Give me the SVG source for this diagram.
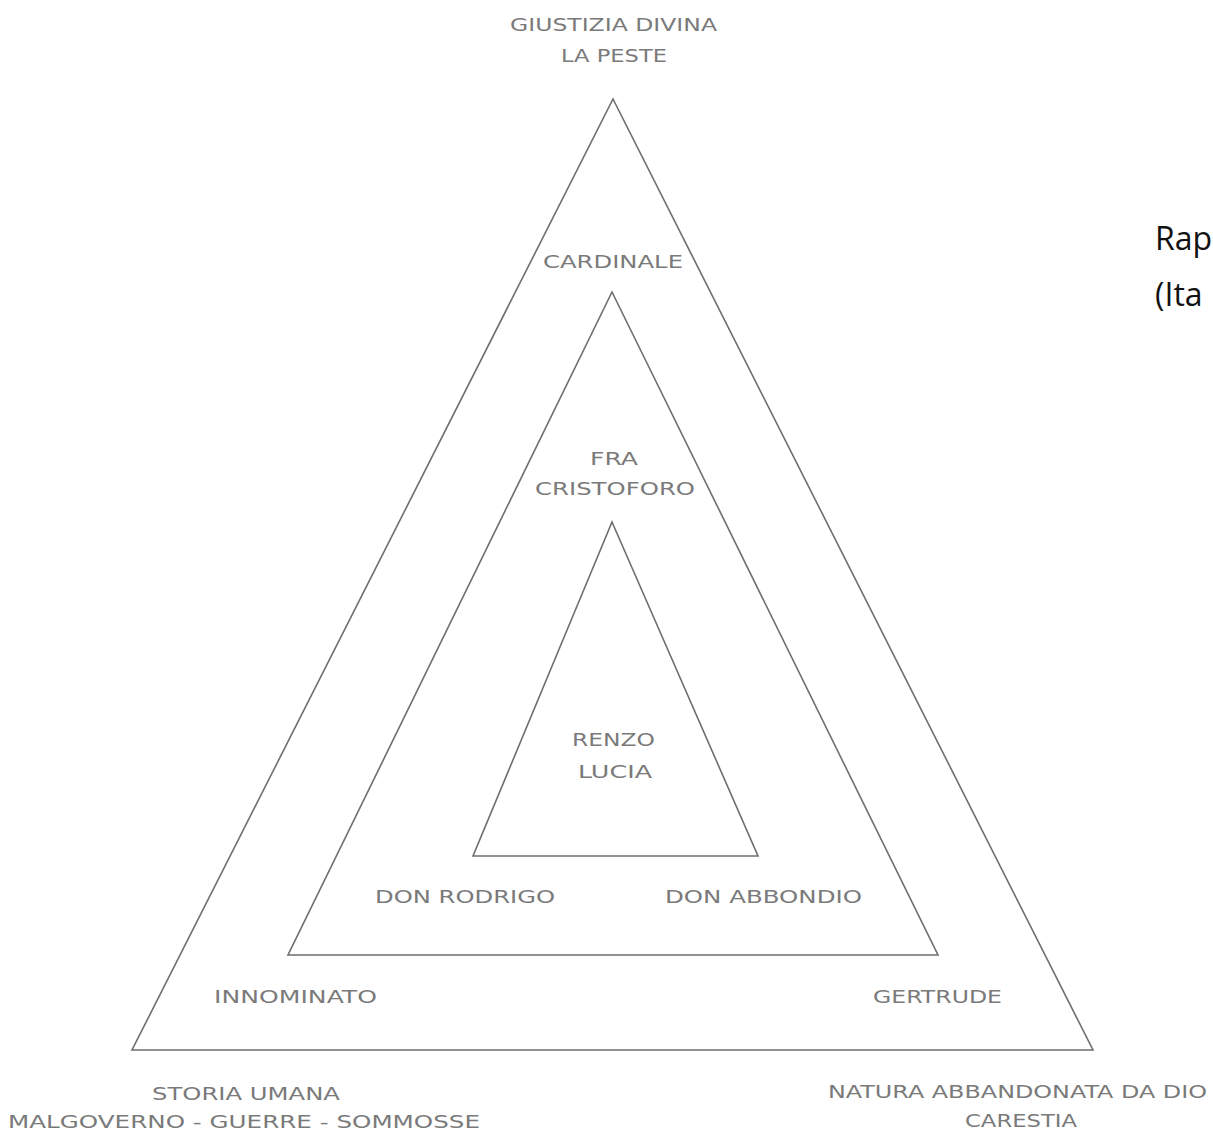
<svg xmlns="http://www.w3.org/2000/svg" width="1213" height="1134" viewBox="0 0 1213 1134">
<style>
.tri{fill:none;stroke:#6e6e6e;stroke-width:1.6;stroke-linejoin:miter}
.lbl{font-family:"DejaVu Sans",sans-serif;font-size:18.5px;fill:#7a7a7a}
.side{font-family:"Open Sans","Liberation Sans",sans-serif;font-size:32px;fill:#111}
</style>
<rect width="1213" height="1134" fill="#fff"/>
<g id="connectors">
<polygon id="outer-triangle" class="tri" points="613,99 1093,1050 132,1050"/>
<polygon id="middle-triangle" class="tri" points="612,292 938,955 288,955"/>
<polygon id="inner-triangle" class="tri" points="612,522 758,856 473,856"/>
</g>
<g id="node-apex"><text class="lbl" x="510" y="31" textLength="207" lengthAdjust="spacingAndGlyphs">GIUSTIZIA DIVINA</text><text class="lbl" x="561" y="62" textLength="106" lengthAdjust="spacingAndGlyphs">LA PESTE</text></g>
<g id="node-cardinale"><text class="lbl" x="543" y="268" textLength="140" lengthAdjust="spacingAndGlyphs">CARDINALE</text></g>
<g id="node-cristoforo"><text class="lbl" x="590" y="465" textLength="48" lengthAdjust="spacingAndGlyphs">FRA</text><text class="lbl" x="535" y="495" textLength="160" lengthAdjust="spacingAndGlyphs">CRISTOFORO</text></g>
<g id="node-renzo-lucia"><text class="lbl" x="572" y="746" textLength="83" lengthAdjust="spacingAndGlyphs">RENZO</text><text class="lbl" x="578" y="778" textLength="74" lengthAdjust="spacingAndGlyphs">LUCIA</text></g>
<g id="node-rodrigo"><text class="lbl" x="375" y="903" textLength="180" lengthAdjust="spacingAndGlyphs">DON RODRIGO</text></g>
<g id="node-abbondio"><text class="lbl" x="665" y="903" textLength="197" lengthAdjust="spacingAndGlyphs">DON ABBONDIO</text></g>
<g id="node-innominato"><text class="lbl" x="214" y="1003" textLength="163" lengthAdjust="spacingAndGlyphs">INNOMINATO</text></g>
<g id="node-gertrude"><text class="lbl" x="873" y="1003" textLength="129" lengthAdjust="spacingAndGlyphs">GERTRUDE</text></g>
<g id="node-storia"><text class="lbl" x="152" y="1100" textLength="188" lengthAdjust="spacingAndGlyphs">STORIA UMANA</text><text class="lbl" x="8" y="1128" textLength="472" lengthAdjust="spacingAndGlyphs">MALGOVERNO - GUERRE - SOMMOSSE</text></g>
<g id="node-natura"><text class="lbl" x="828" y="1098" textLength="379" lengthAdjust="spacingAndGlyphs">NATURA ABBANDONATA DA DIO</text><text class="lbl" x="965" y="1127" textLength="112" lengthAdjust="spacingAndGlyphs">CARESTIA</text></g>
<g id="node-side-note"><text class="side" x="1155" y="250">Rap</text><text class="side" x="1155" y="306">(Ita</text></g>
</svg>
